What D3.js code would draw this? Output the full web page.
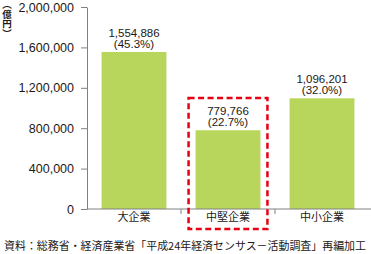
<!DOCTYPE html>
<html>
<head>
<meta charset="utf-8">
<script src="https://cdn.jsdelivr.net/npm/d3@7"></script>
<style>
  body { margin: 0; background: #fff; }
  text { font-family: "Liberation Sans", Arial, sans-serif; fill: #231815; }
  .jp { font-family: "Noto Sans CJK JP", sans-serif; }
</style>
</head>
<body>
<svg id="chart" width="371" height="254"></svg>
<script>
const categories = ['大企業', '中堅企業', '中小企業'];
const values = [1554886, 779766, 1096201];
const shares = ['(45.3%)', '(22.7%)', '(32.0%)'];
const yTicks = [0, 400000, 800000, 1200000, 1600000, 2000000];
const highlighted = '中堅企業';
const unitLabel = '（億円）';
const sourceNote = '資料：総務省・経済産業省「平成24年経済センサス－活動調査」再編加工';

const svg = d3.select('#chart');
const mLeft = 87, mRight = 369, mTop = 7, mBottom = 209;

const x = d3.scaleBand().domain(categories).range([mLeft, mRight]).paddingInner(0.31).paddingOuter(0.155);
const y = d3.scaleLinear().domain([0, 2000000]).range([mBottom, mTop]);

// bars
svg.selectAll('.bar').data(categories).enter().append('rect')
  .attr('x', (d) => x(d))
  .attr('y', (d, i) => y(values[i]))
  .attr('width', x.bandwidth())
  .attr('height', (d, i) => mBottom - y(values[i]))
  .attr('fill', '#b8d65c');

// y axis
const yAxis = svg.append('g').attr('transform', `translate(${mLeft},0)`)
  .call(d3.axisLeft(y).tickValues(yTicks).tickSize(6).tickSizeOuter(0).tickFormat(d3.format(',')));
yAxis.select('.domain').attr('stroke', '#808080');
yAxis.selectAll('.tick line').attr('stroke', '#808080');
yAxis.selectAll('.tick text').attr('x', -13).style('font-size', '12.5px').style('fill', '#231815');

// x axis
const step = x.step();
const xAxis = svg.append('g').attr('transform', `translate(0,${mBottom})`);
xAxis.append('line').attr('x1', mLeft).attr('x2', mRight + 2).attr('stroke', '#808080');
xAxis.selectAll('.sep').data(categories.slice(1)).enter().append('line')
  .attr('x1', (d) => x(d) - (step - x.bandwidth()) / 2)
  .attr('x2', (d) => x(d) - (step - x.bandwidth()) / 2)
  .attr('y1', 0).attr('y2', 5).attr('stroke', '#808080');
xAxis.selectAll('.lbl').data(categories).enter().append('text')
  .attr('class', 'jp')
  .attr('x', (d) => x(d) + x.bandwidth() / 2)
  .attr('y', 12)
  .attr('text-anchor', 'middle')
  .style('font-size', '11px')
  .text((d) => d);

// value labels
const lbl = svg.selectAll('.val').data(categories).enter().append('g');
lbl.append('text')
  .attr('x', (d) => x(d) + x.bandwidth() / 2)
  .attr('y', (d, i) => y(values[i]) - 15)
  .attr('text-anchor', 'middle')
  .style('font-size', '11.5px')
  .text((d, i) => d3.format(',')(values[i]));
lbl.append('text')
  .attr('x', (d) => x(d) + x.bandwidth() / 2)
  .attr('y', (d, i) => y(values[i]) - 4)
  .attr('text-anchor', 'middle')
  .style('font-size', '11.5px')
  .text((d, i) => shares[i]);

// highlight box
const hx = x(highlighted);
svg.append('rect')
  .attr('x', hx - 7)
  .attr('y', 98)
  .attr('width', x.bandwidth() + 14)
  .attr('height', 131)
  .attr('fill', 'none')
  .attr('stroke', '#e60012')
  .attr('stroke-width', 2.5)
  .attr('stroke-dasharray', '6,3.5');

// unit label
svg.append('text')
  .attr('class', 'jp')
  .attr('x', 7)
  .attr('y', 0)
  .style('writing-mode', 'vertical-rl')
  .style('font-size', '9.5px')
  .style('font-weight', 'bold')
  .text(unitLabel);

// source
svg.append('text')
  .attr('class', 'jp')
  .attr('x', 4)
  .attr('y', 250)
  .attr('textLength', 362)
  .attr('lengthAdjust', 'spacingAndGlyphs')
  .style('font-size', '10.8px')
  .text(sourceNote);
</script>
</body>
</html>
